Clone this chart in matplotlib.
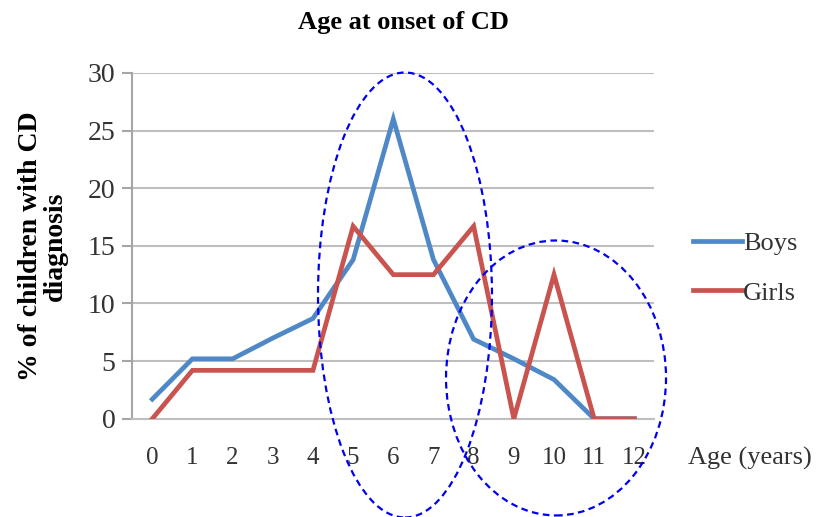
import numpy as np
import matplotlib
matplotlib.use("Agg")
import matplotlib.pyplot as plt
from matplotlib.patches import Ellipse

# data
ages = list(range(13))
age_labels = [str(a) for a in ages]
boys = [1.7, 5.2, 5.2, 7.0, 8.7, 13.8, 26.0, 13.8, 6.9, 5.2, 3.4, 0.0, 0.0]
girls = [0.0, 4.2, 4.2, 4.2, 4.2, 16.7, 12.5, 12.5, 16.7, 0.0, 12.5, 0.0, 0.0]
y_ticks = [0, 5, 10, 15, 20, 25, 30]

plt.rcParams['font.family'] = ['Liberation Serif', 'DejaVu Serif']

fig = plt.figure(figsize=(8.16, 5.17), dpi=100)
ax = fig.add_axes([0.162, 0.190, 0.640, 0.669])

ax.plot(ages, boys, color='#4F88C6', lw=3.4, label='Boys', solid_joinstyle='miter', zorder=3)
ax.plot(ages, girls, color='#C9534F', lw=3.4, label='Girls', solid_joinstyle='miter', zorder=4)

ax.set_xlim(-0.5, 12.5)
ax.set_ylim(0, 30)
ax.set_yticks(y_ticks)
ax.set_xticks(ages)
ax.set_xticklabels(age_labels)
ax.yaxis.grid(True, color='#BFBFBF', lw=1.5)
ax.set_axisbelow(True)
for s in ['top', 'right']:
    ax.spines[s].set_visible(False)
ax.spines['left'].set_color('#A6A6A6')
ax.spines['left'].set_linewidth(1.5)
ax.spines['bottom'].set_color('#BFBFBF')
ax.spines['bottom'].set_linewidth(1.5)
ax.tick_params(axis='y', length=7, width=1.5, color='#A6A6A6', labelsize=20,
               labelcolor='#333333', pad=5)
ax.tick_params(axis='x', length=0, labelsize=18, labelcolor='#333333', pad=20)

fig.text(403 / 816, 1 - 22 / 517, 'Age at onset of CD', fontsize=19, fontweight='bold',
         ha='center', va='center')
fig.text(43 / 816, 1 - 246 / 517, '% of children with CD\ndiagnosis', fontsize=20,
         fontweight='bold', rotation=90, ha='center', va='center', linespacing=0.95)
fig.text(688 / 816, 1 - 458 / 517, 'Age (years)', fontsize=19, ha='left', va='center',
         color='#333333')

fig.legend(loc='center left', bbox_to_anchor=(693 / 816, 1 - 268 / 517), frameon=False,
           fontsize=19, handlelength=1.85, handletextpad=0.05, labelspacing=1.0,
           borderpad=0, borderaxespad=0, labelcolor='#333333')

# dashed ellipses highlighting regions
fig.add_artist(Ellipse((0.4963, 0.4294), 0.2132, 0.8607, transform=fig.transFigure,
                       fill=False, ec='#0000EE', ls=(0, (3, 2)), lw=1.6, zorder=10))
fig.add_artist(Ellipse((0.6814, 0.2689), 0.2696, 0.5319, transform=fig.transFigure,
                       fill=False, ec='#0000EE', ls=(0, (3, 2)), lw=1.6, zorder=10))

fig.savefig('out.png', dpi=100)
